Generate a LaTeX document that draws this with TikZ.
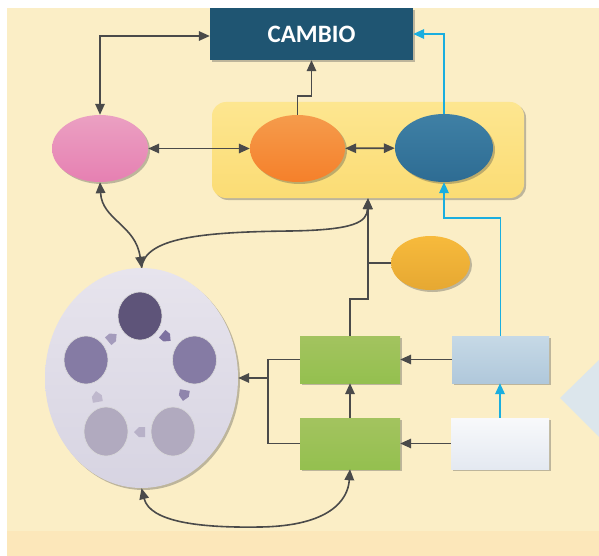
\documentclass[tikz,border=0pt]{standalone}
\usepackage{fontspec}
\setmainfont{Carlito}
\usetikzlibrary{arrows.meta,shapes.geometric,shadows,calc}
\definecolor{bgc}{HTML}{FBEEC6}
\definecolor{bgb}{HTML}{FCE7BA}
\definecolor{linec}{HTML}{4A4A4A}
\definecolor{cyanc}{HTML}{1AAEDF}
\definecolor{cambioc}{HTML}{1F5572}
\definecolor{tric}{HTML}{DCE6EC}
\definecolor{panelt}{HTML}{FDE690}
\definecolor{panelb}{HTML}{FBDC74}
\definecolor{pinkt}{HTML}{EBA0C2}
\definecolor{pinkb}{HTML}{E680B2}
\definecolor{orat}{HTML}{F59B4C}
\definecolor{orab}{HTML}{F5802A}
\definecolor{bluet}{HTML}{3F80A5}
\definecolor{blueb}{HTML}{2E6C93}
\definecolor{sorat}{HTML}{F7BA3C}
\definecolor{sorab}{HTML}{E6A832}
\definecolor{bigt}{HTML}{E7E4ED}
\definecolor{bigb}{HTML}{D7D4E2}
\definecolor{pdark}{HTML}{5E5479}
\definecolor{pmid}{HTML}{857BA4}
\definecolor{plight}{HTML}{B1AABF}
\definecolor{ar1}{HTML}{7D71A0}
\definecolor{ar2}{HTML}{8F85AC}
\definecolor{ar3}{HTML}{B8B1C8}
\definecolor{ar4}{HTML}{BFB8CD}
\definecolor{ar5}{HTML}{A49BBC}
\definecolor{greent}{HTML}{A3C35F}
\definecolor{greenb}{HTML}{94C04F}
\definecolor{lbt}{HTML}{C6D9E6}
\definecolor{lbb}{HTML}{B0C8DB}
\definecolor{wbt}{HTML}{F8F9FB}
\definecolor{wbb}{HTML}{E4E9F1}
\begin{document}
\begin{tikzpicture}[x=1pt,y=-1pt,
  tip/.tip={Triangle[length=11pt,width=9.5pt]},
  conn/.style={draw=linec,line width=1.6pt},
  cyanline/.style={draw=cyanc,line width=1.8pt},
  shd/.style={drop shadow={shadow xshift=2pt,shadow yshift=-2pt,opacity=0.35,fill=black!70}},
  ell/.style={ellipse,inner sep=0pt,shd},
  boxn/.style={rectangle,inner sep=0pt,shd},
  inner/.style={ellipse,inner sep=0pt,draw=white!70!gray,line width=0.6pt}]
\useasboundingbox (0,0) rectangle (599,556);
\fill[white] (0,0) rectangle (599,556);
\fill[bgc] (7,8) rectangle (599,556);
\fill[bgb] (7,531) rectangle (599,556);
% right triangle
\fill[tric] (560,398) -- (599,360) -- (599,437) -- cycle;
% top box
\node[boxn,fill=cambioc,minimum width=203pt,minimum height=52pt,text=white,font=\bfseries\fontsize{25}{30}\selectfont] (cambio) at (311.5,34) {CAMBIO};
% panel
\node[rectangle,rounded corners=14pt,minimum width=312pt,minimum height=96pt,top color=panelt,bottom color=panelb,shd] (panel) at (368,150) {};
% ellipses
\node[ell,minimum width=96pt,minimum height=67pt,top color=pinkt,bottom color=pinkb] (pink) at (100,148.5) {};
\node[ell,minimum width=95pt,minimum height=67pt,top color=orat,bottom color=orab] (orange) at (297.5,148.5) {};
\node[ell,minimum width=98pt,minimum height=68pt,top color=bluet,bottom color=blueb] (blue) at (444,148) {};
\node[ell,minimum width=79pt,minimum height=54pt,top color=sorat,bottom color=sorab] (sorange) at (430.5,263) {};
% big circle
\node[ell,minimum width=193pt,minimum height=220pt,top color=bigt,bottom color=bigb] (big) at (141.5,378) {};
\node[inner,fill=pdark,minimum width=44pt,minimum height=48pt] (c1) at (140,316) {};
\node[inner,fill=pmid,minimum width=44pt,minimum height=48pt] (c2) at (194.5,360) {};
\node[inner,fill=plight,minimum width=44pt,minimum height=49pt] (c3) at (173,431.5) {};
\node[inner,fill=plight,minimum width=44pt,minimum height=49pt] (c4) at (106,431.5) {};
\node[inner,fill=pmid,minimum width=44pt,minimum height=48pt] (c5) at (86,360) {};
% small cycle arrows
\foreach \px/\py/\ang/\col in {166/337/-40/ar1, 184/395/-100/ar2, 140/432/180/ar3, 97/397/100/ar4, 112/338/40/ar5}{
  \begin{scope}[shift={(\px,\py)},rotate=\ang]
    \fill[\col] (-5,-5) -- (1,-5) -- (6,0) -- (1,5) -- (-5,5) -- cycle;
  \end{scope}
}
% boxes
\node[boxn,minimum width=100pt,minimum height=47pt,top color=greent,bottom color=greenb] (g1) at (350,359.5) {};
\node[boxn,minimum width=100pt,minimum height=51pt,top color=greent,bottom color=greenb] (g2) at (350,443.5) {};
\node[boxn,minimum width=97pt,minimum height=47pt,top color=lbt,bottom color=lbb] (lb) at (500.5,359.5) {};
\node[boxn,minimum width=98pt,minimum height=51pt,top color=wbt,bottom color=wbb] (wb) at (500,443.5) {};
% connectors
\draw[conn,{tip}-{tip}] (pink.north) |- ($(cambio.west)+(0,2)$);
\draw[conn,{tip}-{tip}] (pink) -- (orange);
\draw[conn,{tip}-{tip}] (orange) -- (blue);
\draw[conn,-{tip}] (orange.north) -- ++(0,-19) -| (cambio.south);
\draw[cyanline,-{tip}] (blue.north) |- (cambio.east);
\draw[cyanline,-{tip}] (lb.north) -- ++(0,-118) -| (blue.south);
\draw[cyanline,-{tip}] (wb.north) -- (wb.north |- lb.south);
\draw[conn,-{tip}] (g1.north) -- ++(0,-37) -| (panel.south);
\draw[conn] (sorange.west) -- (sorange.west -| panel.south);
\draw[conn,-{tip}] (big.north) .. controls (145,238) and (200,232) .. (290,231) .. controls (355,230) and (367,222) .. (panel.south);
\draw[conn,{tip}-{tip}] (pink.south) .. controls (102,220) and (136,225) .. (big.north);
\draw[conn,-{tip}] (lb) -- (g1);
\draw[conn,-{tip}] (wb) -- (g2);
\draw[conn,-{tip}] (g2) -- (g1);
\draw[conn] (g1.west) -- ++(-32,0) |- (g2.west);
\coordinate (jn) at (268,378);
\draw[conn,-{tip}] (jn) -- (big.east);
\draw[conn,{tip}-{tip}] (big.south) .. controls (150,522) and (200,528) .. (260,527) .. controls (330,526) and (348,500) .. (g2.south);
\end{tikzpicture}
\end{document}
